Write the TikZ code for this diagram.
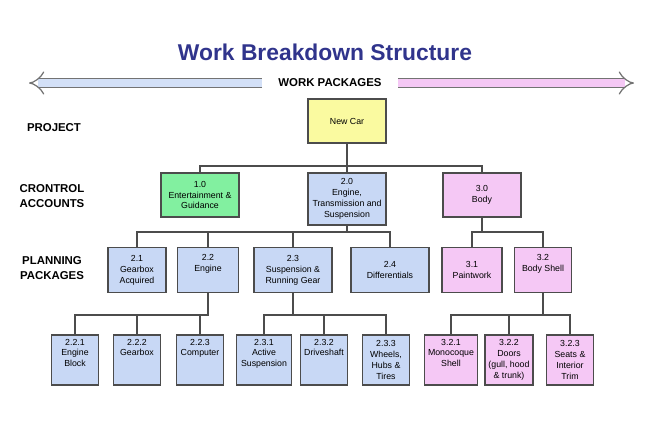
\documentclass[tikz,border=0pt]{standalone}
\usepackage{fontspec}
\setmainfont{Liberation Sans}
\usetikzlibrary{arrows.meta}
\definecolor{titleblue}{RGB}{48,52,140}
\definecolor{boxyellow}{RGB}{250,250,160}
\definecolor{boxgreen}{RGB}{130,240,160}
\definecolor{boxblue}{RGB}{200,216,245}
\definecolor{boxpink}{RGB}{245,200,245}
\begin{document}
\begin{tikzpicture}[x=0.02cm, y=-0.02cm, >=Stealth]

    \tikzstyle{wbs} = [rectangle, draw=black!70, thick, align=center, inner sep=1pt, font=\fontsize{5}{6.2}\selectfont]
    \tikzstyle{level} = [align=center, font=\bfseries\fontsize{6.5}{8.5}\selectfont]
    \tikzstyle{link} = [thick, black!70]
    \tikzstyle{band} = [line width=0.7pt, black!55, double distance=4pt, -{Implies[length=7pt, width=11pt]}]

    \useasboundingbox (0,0) rectangle (650,434);

    % Title and band
    \node (title) at (325,52) [font=\bfseries\fontsize{13}{15}\selectfont, text=titleblue] {Work Breakdown Structure};
    \node (wp) at (330,83) [level] {WORK PACKAGES};
    \coordinate (leftend) at (29,83);
    \coordinate (rightend) at (634,83);
    \draw [band, double=boxblue!80] (wp.west) ++(-10,0) -- (leftend);
    \draw [band, double=boxpink] (wp.east) ++(10,0) -- (rightend);

    % Level labels
    \node (lproj) at (54,128) [level] {PROJECT};
    \node (lacc) at (52,196) [level] {CRONTROL\\ACCOUNTS};
    \node (lplan) at (52,268) [level] {PLANNING\\PACKAGES};

    % Nodes
    \node (car) at (347,121) [wbs, fill=boxyellow, minimum width=78*0.02cm, minimum height=44*0.02cm] {New Car};

    \node (ca1) at (200,195) [wbs, fill=boxgreen, minimum width=78*0.02cm, minimum height=44*0.02cm] {1.0\\Entertainment \&\\Guidance};
    \node (ca2) at (347,199) [wbs, fill=boxblue, minimum width=78*0.02cm, minimum height=52*0.02cm] {2.0\\Engine,\\Transmission and\\Suspension};
    \node (ca3) at (482,195) [wbs, fill=boxpink, minimum width=78*0.02cm, minimum height=44*0.02cm] {3.0\\Body};

    \node (p21) at (137,270) [wbs, fill=boxblue, minimum width=58*0.02cm, minimum height=45*0.02cm] {2.1\\Gearbox\\Acquired};
    \node (p22) at (208,270) [wbs, fill=boxblue, minimum width=61*0.02cm, minimum height=45*0.02cm] {2.2\\Engine\\\strut};
    \node (p23) at (293,270) [wbs, fill=boxblue, minimum width=78*0.02cm, minimum height=45*0.02cm] {2.3\\Suspension \&\\Running Gear};
    \node (p24) at (390,270) [wbs, fill=boxblue, minimum width=78*0.02cm, minimum height=45*0.02cm] {2.4\\Differentials};
    \node (p31) at (472,270) [wbs, fill=boxpink, minimum width=60*0.02cm, minimum height=45*0.02cm] {3.1\\Paintwork};
    \node (p32) at (543,270) [wbs, fill=boxpink, minimum width=57*0.02cm, minimum height=45*0.02cm] {3.2\\Body Shell\\\strut};

    \node (w221) at (75,360) [wbs, fill=boxblue, minimum width=47*0.02cm, minimum height=50*0.02cm] {2.2.1\\Engine\\Block\\\strut};
    \node (w222) at (137,360) [wbs, fill=boxblue, minimum width=47*0.02cm, minimum height=50*0.02cm] {2.2.2\\Gearbox\\\strut\\\strut};
    \node (w223) at (200,360) [wbs, fill=boxblue, minimum width=47*0.02cm, minimum height=50*0.02cm] {2.2.3\\Computer\\\strut\\\strut};
    \node (w231) at (264,360) [wbs, fill=boxblue, minimum width=55*0.02cm, minimum height=50*0.02cm] {2.3.1\\Active\\Suspension\\\strut};
    \node (w232) at (324,360) [wbs, fill=boxblue, minimum width=47*0.02cm, minimum height=50*0.02cm] {2.3.2\\Driveshaft\\\strut\\\strut};
    \node (w233) at (386,360) [wbs, fill=boxblue, minimum width=47*0.02cm, minimum height=50*0.02cm] {2.3.3\\Wheels,\\Hubs \&\\Tires};
    \node (w321) at (451,360) [wbs, fill=boxpink, minimum width=53*0.02cm, minimum height=50*0.02cm] {3.2.1\\Monocoque\\Shell\\\strut};
    \node (w322) at (509,360) [wbs, fill=boxpink, minimum width=48*0.02cm, minimum height=50*0.02cm] {3.2.2\\Doors\\(gull, hood\\\& trunk)};
    \node (w323) at (570,360) [wbs, fill=boxpink, minimum width=47*0.02cm, minimum height=50*0.02cm] {3.2.3\\Seats \&\\Interior\\Trim};

    % Bus levels
    \coordinate (bus0) at (0,166);
    \coordinate (bus1) at (0,232);
    \coordinate (bus2) at (0,315);

    % Connectors
    \draw [link] (car.south) -- (car.south |- bus0) -| (ca1.north);
    \draw [link] (car.south) -- (ca2.north);
    \draw [link] (car.south |- bus0) -| (ca3.north);

    \draw [link] (ca2.south) -- (ca2.south |- bus1) -| (p21.north);
    \draw [link] (ca2.south |- bus1) -| (p22.north);
    \draw [link] (ca2.south |- bus1) -| (p23.north);
    \draw [link] (ca2.south |- bus1) -| (p24.north);
    \draw [link] (ca3.south) -- (ca3.south |- bus1) -| (p31.north);
    \draw [link] (ca3.south |- bus1) -| (p32.north);

    \draw [link] (p22.south) -- (p22.south |- bus2) -| (w221.north);
    \draw [link] (p22.south |- bus2) -| (w222.north);
    \draw [link] (p22.south |- bus2) -| (w223.north);
    \draw [link] (p23.south) -- (p23.south |- bus2) -| (w231.north);
    \draw [link] (p23.south |- bus2) -| (w232.north);
    \draw [link] (p23.south |- bus2) -| (w233.north);
    \draw [link] (p32.south) -- (p32.south |- bus2) -| (w321.north);
    \draw [link] (p32.south |- bus2) -| (w322.north);
    \draw [link] (p32.south |- bus2) -| (w323.north);

\end{tikzpicture}
\end{document}
